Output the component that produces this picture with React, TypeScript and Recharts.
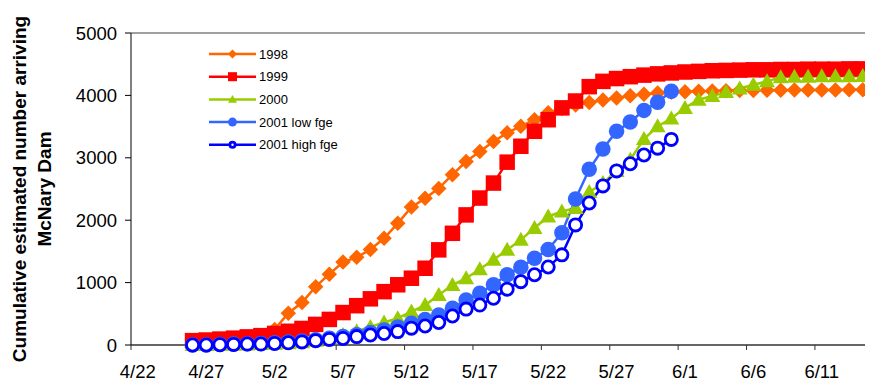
import React from "react";
import { LineChart, Line, XAxis, YAxis, ReferenceLine, Legend } from "recharts";

// days are counted from 4/22 (day 0); every series starts on 4/26
const START_DAY = 4;
const X_MAX = 56;
const DATE_LABELS = ["4/22", "4/27", "5/2", "5/7", "5/12", "5/17", "5/22", "5/27", "6/1", "6/6", "6/11"];
const DATE_TICKS = DATE_LABELS.map((_, i) => i * 5);
const Y_TICKS = [0, 1000, 2000, 3000, 4000, 5000];

const RUN_1998 = [
  20, 25, 35, 45, 60, 100, 250, 510, 680, 935,
  1135, 1330, 1405, 1530, 1710, 1950, 2210, 2350, 2510, 2730,
  2940, 3100, 3260, 3400, 3505, 3610, 3720, 3790, 3845, 3885,
  3925, 3960, 3995, 4020, 4040, 4050, 4060, 4065, 4070, 4075,
  4078, 4080, 4082, 4084, 4085, 4086, 4087, 4088, 4089, 4090,
];
const RUN_1999 = [
  70, 80, 95, 110, 130, 150, 185, 220, 265, 330,
  410, 520, 630, 740, 855, 965, 1070, 1230, 1525, 1790,
  2085, 2355, 2595, 2930, 3185, 3425, 3610, 3800, 3910, 4140,
  4225, 4270, 4300, 4325, 4345, 4360, 4375, 4385, 4395, 4400,
  4405, 4410, 4410, 4415, 4415, 4420, 4420, 4420, 4425, 4425,
];
const RUN_2000 = [
  0, 0, 5, 5, 10, 15, 20, 30, 45, 70,
  110, 160, 220, 290, 360, 430, 535, 640, 800, 960,
  1070, 1215, 1365, 1525, 1685, 1875, 2060, 2140, 2195, 2450,
  2595, 2790, 2970, 3300, 3505, 3630, 3800, 3930, 3990, 4055,
  4110, 4170, 4225, 4290, 4300, 4300, 4305, 4305, 4305, 4310,
];
const RUN_2001_LOW = [
  0, 0, 10, 15, 20, 25, 35, 50, 65, 85,
  110, 135, 165, 200, 240, 290, 350, 410, 480, 590,
  720, 830, 965, 1125, 1245, 1390, 1530, 1800, 2340, 2815,
  3140, 3425, 3575, 3760, 3890, 4065,
];
const RUN_2001_HIGH = [
  0, 0, 5, 10, 15, 15, 25, 35, 50, 70,
  90, 105, 135, 160, 185, 215, 270, 305, 360, 465,
  575, 640, 750, 895, 1015, 1125, 1250, 1445, 1925, 2275,
  2550, 2790, 2905, 3045, 3155, 3295,
];

type Shape = "diamond" | "square" | "triangle" | "circle" | "open";

const SERIES: { key: string; name: string; color: string; shape: Shape; values: number[] }[] = [
  { key: "r1998", name: "1998", color: "#FF6600", shape: "diamond", values: RUN_1998 },
  { key: "r1999", name: "1999", color: "#FF0000", shape: "square", values: RUN_1999 },
  { key: "r2000", name: "2000", color: "#99CC00", shape: "triangle", values: RUN_2000 },
  { key: "low", name: "2001 low fge", color: "#3366FF", shape: "circle", values: RUN_2001_LOW },
  { key: "high", name: "2001 high fge", color: "#0000FF", shape: "open", values: RUN_2001_HIGH },
];

const data = RUN_1998.map((_, i) => {
  const row: Record<string, number | null> = { day: START_DAY + i + 0.5 };
  SERIES.forEach((s) => {
    row[s.key] = i < s.values.length ? s.values[i] : null;
  });
  return row;
});

const CHART_W = 889;
const CHART_H = 377;
const Y_AXIS_W = 123;
const TOP = 25;
const X_AXIS_H = 40;
const DAY_PX = (CHART_W - Y_AXIS_W) / X_MAX;
const FONT = "'Liberation Sans', Arial, sans-serif";

function Marker({ shape, color, cx, cy, size }: { shape: Shape; color: string; cx: number; cy: number; size: number }) {
  const r = size / 2;
  if (shape === "diamond")
    return <polygon points={`${cx},${cy - r} ${cx + r},${cy} ${cx},${cy + r} ${cx - r},${cy}`} fill={color} />;
  if (shape === "square") return <rect x={cx - r} y={cy - r} width={size} height={size} fill={color} />;
  if (shape === "triangle")
    return <polygon points={`${cx},${cy - r} ${cx + r},${cy + r * 0.75} ${cx - r},${cy + r * 0.75}`} fill={color} />;
  if (shape === "circle") return <circle cx={cx} cy={cy} r={r} fill={color} />;
  return <circle cx={cx} cy={cy} r={r - 1.4} fill="#fff" stroke={color} strokeWidth={2.8} />;
}

const PLOT_SIZE: Record<Shape, number> = { diamond: 15.5, square: 15.5, triangle: 16, circle: 15.5, open: 15 };
const LEGEND_SIZE: Record<Shape, number> = { diamond: 9, square: 9, triangle: 9, circle: 9, open: 8 };

function DateTick({ x, y, payload }: any) {
  return (
    <text x={x + DAY_PX / 2} y={y} dy="0.71em" textAnchor="middle" fontSize={18.5} fill="#000" fontFamily={FONT}>
      {DATE_LABELS[Math.round(payload.value / 5)]}
    </text>
  );
}

function YTitle() {
  const cy = TOP + (CHART_H - TOP - X_AXIS_H) / 2;
  return (
    <g fontFamily={FONT} fontWeight="bold" fontSize={19} fill="#000" textAnchor="middle">
      <text x={11} y={cy} transform={`rotate(-90 11 ${cy})`} dominantBaseline="central">
        Cumulative estimated number arriving
      </text>
      <text x={36} y={cy} transform={`rotate(-90 36 ${cy})`} dominantBaseline="central">
        McNary Dam
      </text>
    </g>
  );
}

function LegendBox() {
  const rowH = 22.7;
  return (
    <svg width={170} height={120}>
      {SERIES.map((s, i) => {
        const y = 12 + i * rowH;
        return (
          <g key={s.key}>
            <line x1={1} y1={y} x2={48} y2={y} stroke={s.color} strokeWidth={2.5} />
            <Marker shape={s.shape} color={s.color} cx={24.5} cy={y} size={LEGEND_SIZE[s.shape]} />
            <text x={51} y={y} dominantBaseline="central" fontSize={13} fill="#000" fontFamily={FONT}>
              {s.name}
            </text>
          </g>
        );
      })}
    </svg>
  );
}

export default function App() {
  return (
    <div style={{ width: 865, height: CHART_H, overflow: "hidden", position: "relative", fontFamily: FONT }}>
      <LineChart width={CHART_W} height={CHART_H} data={data} margin={{ top: TOP, right: 0, bottom: 0, left: 0 }}>
        <XAxis
          type="number"
          dataKey="day"
          domain={[0, X_MAX]}
          ticks={DATE_TICKS}
          interval={0}
          height={X_AXIS_H}
          tick={<DateTick />}
          tickSize={5}
          tickMargin={15}
          axisLine={{ stroke: "#333", strokeWidth: 1.5 }}
          tickLine={{ stroke: "#333" }}
          allowDataOverflow
        />
        <YAxis
          type="number"
          domain={[0, 5000]}
          ticks={Y_TICKS}
          interval={0}
          width={Y_AXIS_W}
          tick={{ fontSize: 18.5, fill: "#000", fontFamily: FONT }}
          tickSize={6}
          tickMargin={8}
          axisLine={{ stroke: "#000" }}
          tickLine={{ stroke: "#000" }}
          label={{ content: () => <YTitle /> }}
        />
        <ReferenceLine y={5000} stroke="#808080" strokeWidth={1.5} />
        {SERIES.map((s) => (
          <Line
            key={s.key}
            dataKey={s.key}
            name={s.name}
            type="linear"
            stroke={s.color}
            strokeWidth={2.5}
            isAnimationActive={false}
            activeDot={false}
            dot={(p: any) =>
              p.cx == null || p.cy == null || p.value == null ? (
                <g key={`${s.key}-${p.index}`} />
              ) : (
                <Marker key={`${s.key}-${p.index}`} shape={s.shape} color={s.color} cx={p.cx} cy={p.cy} size={PLOT_SIZE[s.shape]} />
              )
            }
          />
        ))}
        <Legend
          layout="vertical"
          align="center"
          verticalAlign="middle"
          wrapperStyle={{ left: 200, top: 34, width: 170, height: 120 }}
          content={() => <LegendBox />}
        />
      </LineChart>
    </div>
  );
}
